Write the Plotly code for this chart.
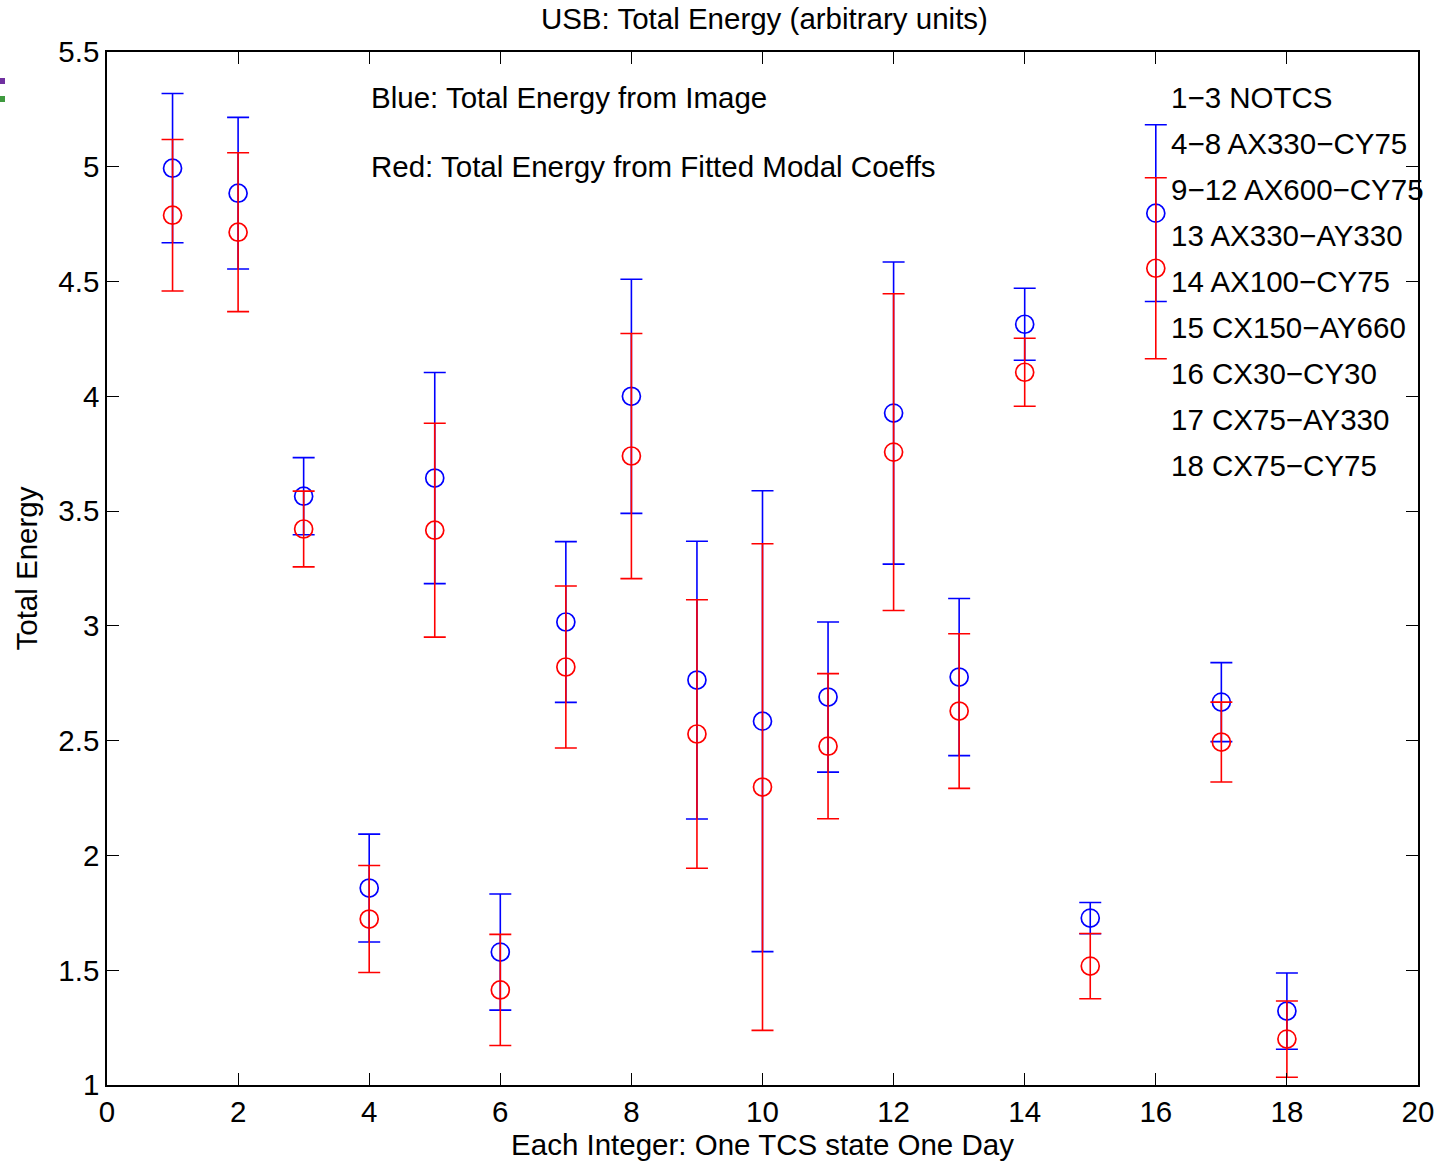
import plotly.graph_objects as go

x_vals = list(range(1, 19))
blue_vals = [4.994, 4.885, 3.565, 1.858, 3.644, 1.579, 3.017, 4.000, 2.764, 2.585,
             2.690, 3.927, 2.777, 4.314, 1.727, 4.798, 2.668, 1.322]
blue_err = [0.325, 0.330, 0.168, 0.235, 0.460, 0.253, 0.350, 0.510, 0.605, 1.004,
            0.327, 0.658, 0.342, 0.157, 0.068, 0.385, 0.172, 0.166]
red_vals = [4.789, 4.715, 3.422, 1.723, 3.417, 1.414, 2.821, 3.740, 2.529, 2.298,
            2.476, 3.757, 2.629, 4.105, 1.518, 4.558, 2.494, 1.200]
red_err = [0.330, 0.346, 0.165, 0.233, 0.466, 0.242, 0.353, 0.534, 0.585, 1.060,
           0.316, 0.690, 0.337, 0.148, 0.142, 0.394, 0.174, 0.166]

legend_lines = ["1\u22123 NOTCS", "4\u22128 AX330\u2212CY75", "9\u221212 AX600\u2212CY75",
                "13 AX330\u2212AY330", "14 AX100\u2212CY75", "15 CX150\u2212AY660",
                "16 CX30\u2212CY30", "17 CX75\u2212AY330", "18 CX75\u2212CY75"]
legend_y = [5.3, 5.1, 4.9, 4.7, 4.5, 4.3, 4.1, 3.9, 3.7]
note_lines = ["Blue: Total Energy from Image", "Red: Total Energy from Fitted Modal Coeffs"]
note_y = [5.3, 5.0]

x_ticks = list(range(0, 21, 2))
y_ticks = [1, 1.5, 2, 2.5, 3, 3.5, 4, 4.5, 5, 5.5]

FONT = "Liberation Sans, Arial, sans-serif"
FS = 29.5

fig = go.Figure()
for vals, errs, col in [(blue_vals, blue_err, "#0000ff"), (red_vals, red_err, "#ff0000")]:
    fig.add_trace(go.Scatter(
        x=x_vals, y=vals, mode="markers",
        marker=dict(symbol="circle-open", size=18, color=col, line=dict(width=1.7, color=col)),
        error_y=dict(type="data", array=errs, symmetric=True, color=col, thickness=1.6, width=11),
        showlegend=False,
    ))

annotations = []
for t, yy in zip(note_lines, note_y):
    annotations.append(dict(x=4, y=yy, xref="x", yref="y", text=t, showarrow=False,
                            xanchor="left", yanchor="middle", font=dict(size=FS, color="black", family=FONT)))
for t, yy in zip(legend_lines, legend_y):
    annotations.append(dict(x=16.2, y=yy, xref="x", yref="y", text=t, showarrow=False,
                            xanchor="left", yanchor="middle", font=dict(size=FS, color="black", family=FONT)))

axis_common = dict(showline=True, linecolor="black", linewidth=1.5, mirror="ticks",
                   ticks="inside", ticklen=12, tickwidth=1.3, tickcolor="black",
                   showgrid=False, zeroline=False, automargin=False,
                   tickfont=dict(size=FS, color="black", family=FONT))

fig.update_layout(
    width=1445, height=1165,
    margin=dict(l=107, r=27, t=52, b=80),
    paper_bgcolor="white", plot_bgcolor="white",
    font=dict(family=FONT, color="black", size=FS),
    title=dict(text="USB: Total Energy (arbitrary units)", x=0.529, xanchor="center",
               y=1 - 19 / 1165, yanchor="middle", font=dict(size=FS, color="black", family=FONT)),
    xaxis=dict(range=[0, 20], tickvals=x_ticks, ticktext=[str(v) for v in x_ticks],
               title=dict(text="Each Integer: One TCS state One Day", standoff=7,
                          font=dict(size=FS, color="black", family=FONT)),
               **axis_common),
    yaxis=dict(range=[1, 5.5], tickvals=y_ticks, ticktext=[f"{v:g}" for v in y_ticks],
               title=dict(text="Total Energy", standoff=12,
                          font=dict(size=FS, color="black", family=FONT)),
               **axis_common),
    annotations=annotations,
    shapes=[
        dict(type="rect", xref="paper", yref="paper", x0=-107 / 1311, x1=-102 / 1311,
             y0=(1085 - 84) / 1033, y1=(1085 - 78) / 1033, fillcolor="#7030a0", line=dict(width=0)),
        dict(type="rect", xref="paper", yref="paper", x0=-107 / 1311, x1=-102 / 1311,
             y0=(1085 - 102) / 1033, y1=(1085 - 96) / 1033, fillcolor="#3f9a3f", line=dict(width=0)),
    ],
)

fig.write_html("out.html")
